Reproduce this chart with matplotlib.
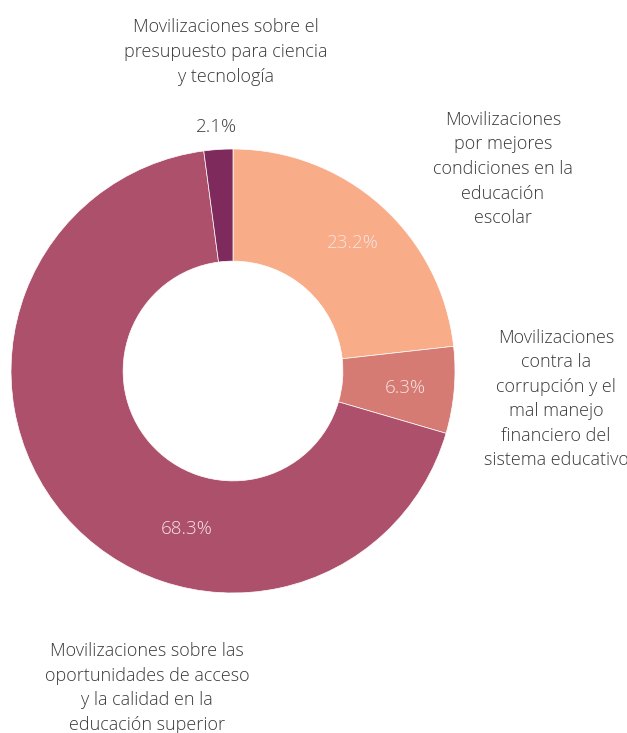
import numpy as np
import matplotlib.pyplot as plt

plt.rcParams['font.family'] = ['Open Sans', 'DejaVu Sans']

# shares of each type of mobilization (percent)
categories = [
    "Movilizaciones\npor mejores\ncondiciones en la\neducación\nescolar",
    "Movilizaciones\ncontra la\ncorrupción y el\nmal manejo\nfinanciero del\nsistema educativo",
    "Movilizaciones sobre las\noportunidades de acceso\ny la calidad en la\neducación superior",
    "Movilizaciones sobre el\npresupuesto para ciencia\ny tecnología",
]
shares = [23.2, 6.3, 68.3, 2.1]
colors = ['#F8AC88', '#D67B74', '#AD506B', '#7F2A5C']

W, H = 627, 733
fig = plt.figure(figsize=(W / 100, H / 100), dpi=100)

# donut centre and radius in pixels
cx, cy, r = 233, 371, 222
ax = fig.add_axes([(cx - r) / W, (H - cy - r) / H, 2 * r / W, 2 * r / H])

wedges, _ = ax.pie(
    shares, colors=colors, startangle=90, counterclock=False, radius=1.0,
    wedgeprops=dict(width=0.505, edgecolor='white', linewidth=0.5),
)
ax.set_xlim(-1, 1)
ax.set_ylim(-1, 1)
ax.set_aspect('equal')
ax.axis('off')

# percentage labels at the middle of each wedge; the big slice label sits
# lower on the ring and the thin slice label goes outside
dist = [0.79, 0.78, 0.74, 1.10]
angle_shift = [-1.5, -0.8, 33, 0]
for w, val, d, sh in zip(wedges, shares, dist, angle_shift):
    mid = np.deg2rad((w.theta1 + w.theta2) / 2 + sh)
    col = '#404040' if d > 1 else '#F7E4E4'
    ax.text(d * np.cos(mid), d * np.sin(mid), f'{val:.1f}%', ha='center',
            va='center', fontsize=13.5, color=col, fontweight='light')

label_kw = dict(ha='center', va='center', fontsize=13, color='#3A3A3A',
                fontweight='light', linespacing=1.47)
label_pos = [(226, 52), (503, 169), (556, 399), (147, 688)]
for text, (px, py) in zip([categories[3]] + categories[:3], label_pos):
    fig.text(px / W, 1 - py / H, text, **label_kw)

fig.savefig('out.png', dpi=100)
